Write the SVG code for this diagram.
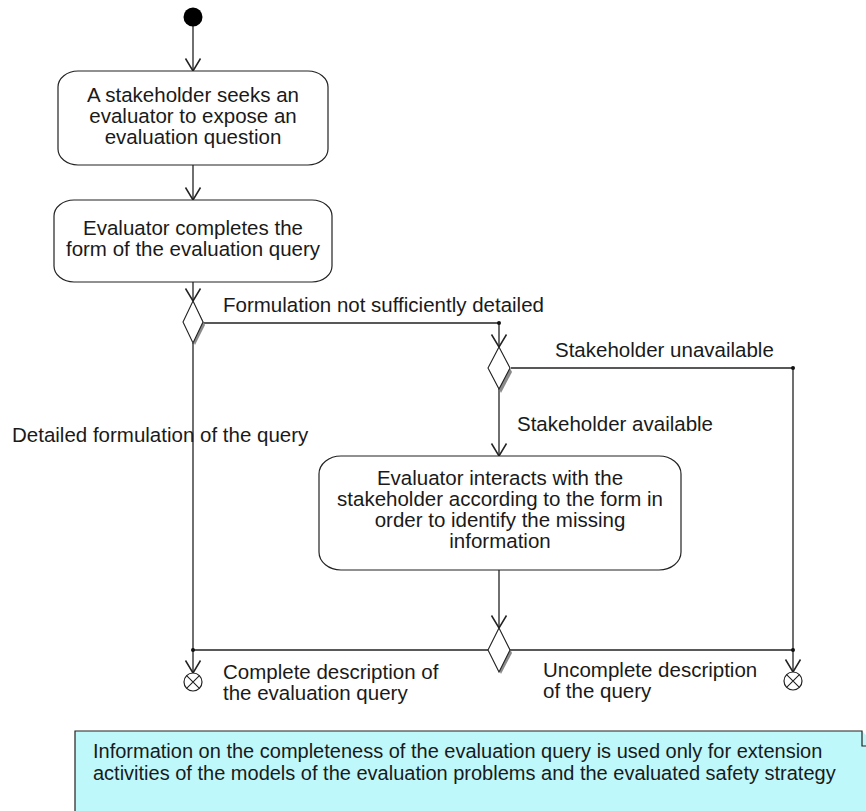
<svg xmlns="http://www.w3.org/2000/svg" width="866" height="811" viewBox="0 0 866 811">
<style>
text{font-family:"Liberation Sans",Arial,sans-serif;font-size:20.5px;fill:#1a1a1a}
.c{text-anchor:middle}
.box{fill:#fff;stroke:#222;stroke-width:1.2}
.ln{fill:none;stroke:#222;stroke-width:1.3}
.dia{fill:#fff;stroke:#222;stroke-width:1.1}
.sh{fill:#8a8a8a}
.dot{fill:#111}
.nt{font-size:20px}
</style>
<defs>
<marker id="arr" markerUnits="userSpaceOnUse" markerWidth="20" markerHeight="20" viewBox="-12 -8 14 16" refX="0" refY="0" orient="auto">
<path d="M-10,-6 L0,0 L-10,6" fill="none" stroke="#222" stroke-width="1.2"/>
</marker>
</defs>
<rect width="866" height="811" fill="#fff"/>

<g id="connectors">
<line class="ln" x1="193" y1="26" x2="193" y2="71" marker-end="url(#arr)"/>
<line class="ln" x1="193" y1="165" x2="193" y2="200" marker-end="url(#arr)"/>
<line class="ln" x1="193" y1="282" x2="193" y2="301" marker-end="url(#arr)"/>
<polyline class="ln" points="203,323 499,323 499,347" marker-end="url(#arr)"/>
<polyline class="ln" points="511,368 793,368 793,672" marker-end="url(#arr)"/>
<line class="ln" x1="499" y1="389" x2="499" y2="456" marker-end="url(#arr)"/>
<line class="ln" x1="499" y1="570" x2="499" y2="628" marker-end="url(#arr)"/>
<line class="ln" x1="193" y1="343" x2="193" y2="673" marker-end="url(#arr)"/>
<line class="ln" x1="193" y1="650" x2="488" y2="650"/>
<line class="ln" x1="510" y1="650" x2="793" y2="650"/>
<circle class="dot" cx="499" cy="323" r="2"/>
<circle class="dot" cx="793" cy="368" r="2"/>
<circle class="dot" cx="193" cy="650" r="2"/>
<circle class="dot" cx="793" cy="650" r="2"/>
</g>

<g id="start">
<circle cx="193" cy="17" r="9.5" fill="#000"/>
</g>

<g id="box1">
<rect class="box" x="58" y="71" width="270" height="94" rx="20" ry="16"/>
<text class="c" x="193" y="102">A stakeholder seeks an</text>
<text class="c" x="193" y="123">evaluator to expose an</text>
<text class="c" x="193" y="144">evaluation question</text>
</g>

<g id="box2">
<rect class="box" x="54" y="200" width="278" height="82" rx="20" ry="16"/>
<text class="c" x="193" y="235">Evaluator completes the</text>
<text class="c" x="193" y="256">form of the evaluation query</text>
</g>

<g id="decision1">
<polygon class="sh" points="195,305 205,325 195,345 185,325"/>
<polygon class="dia" points="193,301 203,322 193,343 183,322"/>
</g>

<g id="decision2">
<polygon class="sh" points="501,351 512,372 501,393 490,372"/>
<polygon class="dia" points="499,347 510,368 499,389 488,368"/>
</g>

<g id="box3">
<rect class="box" x="319" y="456" width="362" height="114" rx="22" ry="18"/>
<text class="c" x="500" y="485">Evaluator interacts with the</text>
<text class="c" x="500" y="506">stakeholder according to the form in</text>
<text class="c" x="500" y="527">order to identify the missing</text>
<text class="c" x="500" y="548">information</text>
</g>

<g id="merge">
<polygon class="sh" points="501,632 512,653 501,674 490,653"/>
<polygon class="dia" points="499,628 510,650 499,672 488,650"/>
</g>

<g id="final1">
<circle cx="193" cy="682" r="9" fill="#fff" stroke="#222" stroke-width="1.2"/>
<path d="M186.6,675.6 L199.4,688.4 M199.4,675.6 L186.6,688.4" stroke="#222" stroke-width="1.1"/>
</g>

<g id="final2">
<circle cx="793" cy="681" r="9" fill="#fff" stroke="#222" stroke-width="1.2"/>
<path d="M786.6,674.6 L799.4,687.4 M799.4,674.6 L786.6,687.4" stroke="#222" stroke-width="1.1"/>
</g>

<g id="labels">
<text x="223" y="312">Formulation not sufficiently detailed</text>
<text x="555" y="357">Stakeholder unavailable</text>
<text x="517" y="431">Stakeholder available</text>
<text x="12" y="442">Detailed formulation of the query</text>
<text x="223" y="679">Complete description of</text>
<text x="223" y="700">the evaluation query</text>
<text x="543" y="677">Uncomplete description</text>
<text x="543" y="698">of the query</text>
</g>

<g id="note">
<polygon points="75,731 862,731 878,747 878,820 75,820" fill="#bff8fb"/>
<polyline points="75,820 75,731 862,731 862,746 878,746" fill="none" stroke="#222" stroke-width="1.2"/>
<text class="nt" x="93" y="758">Information on the completeness of the evaluation query is used only for extension</text>
<text class="nt" x="93" y="780">activities of the models of the evaluation problems and the evaluated safety strategy</text>
</g>
</svg>
